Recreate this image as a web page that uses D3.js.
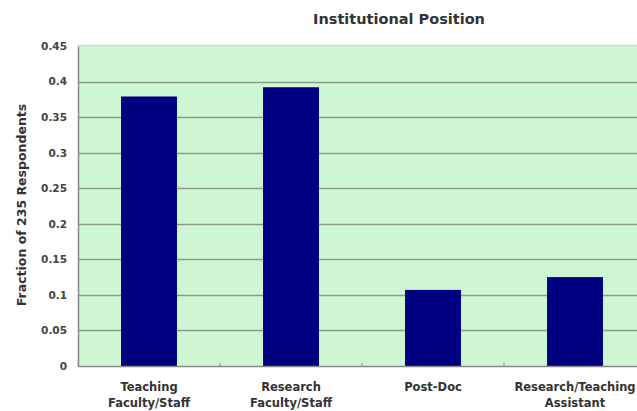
<!DOCTYPE html>
<html><head><meta charset="utf-8">
<script src="https://cdn.jsdelivr.net/npm/d3@7"></script>
<style>body{margin:0;background:#fff}svg{display:block}text{font-family:"DejaVu Sans",Verdana,sans-serif}</style>
</head><body>
<svg id="c" width="637" height="411"></svg>
<script>
const categories = [["Teaching","Faculty/Staff"],["Research","Faculty/Staff"],["Post-Doc"],["Research/Teaching","Assistant"]];
const values = [0.379, 0.392, 0.107, 0.125];
const yTicks = [0,0.05,0.1,0.15,0.2,0.25,0.3,0.35,0.4,0.45];
const title = "Institutional Position";
const yTitle = "Fraction of 235 Respondents";

(function(){
const svg = d3.select("#c");
const pL = 78, pT = 46, pB = 366, pR = 646;
const x = d3.scaleBand().domain(d3.range(values.length)).range([pL, pR]).paddingInner(0.606).paddingOuter(0.303);
const y = d3.scaleLinear().domain([0,0.45]).range([pB, pT]);

svg.append("rect").attr("x",pL).attr("y",pT).attr("width",pR-pL).attr("height",pB-pT)
  .attr("fill","#ccf7d2");
svg.append("line").attr("x1",pL).attr("x2",pR).attr("y1",pT-0.5).attr("y2",pT-0.5).attr("stroke","#d8d8d8").attr("stroke-width",1.5);

const g = svg.append("g");
g.selectAll("line.grid").data(yTicks.slice(1,-1)).join("line")
  .attr("x1",pL).attr("x2",pR).attr("y1",d=>Math.round(y(d))+0.5).attr("y2",d=>Math.round(y(d))+0.5)
  .attr("stroke","#8a9a8a").attr("stroke-width",1.5);

g.selectAll("rect.bar").data(values).join("rect")
  .attr("x",(d,i)=>x(i)).attr("width",x.bandwidth())
  .attr("y",d=>y(d)).attr("height",d=>pB-y(d))
  .attr("fill","#000080");

const yAxis = svg.append("g").attr("transform",`translate(${pL},0)`)
  .call(d3.axisLeft(y).tickValues(yTicks).tickSize(0).tickPadding(11).tickFormat(d=>String(+d.toFixed(2))));
yAxis.select(".domain").attr("stroke","#888").attr("stroke-width",1.5);
yAxis.selectAll("text").attr("font-size",10.5).attr("font-weight","bold").attr("fill","#444");

svg.append("line").attr("x1",pL).attr("x2",pR).attr("y1",pB+0.5).attr("y2",pB+0.5).attr("stroke","#888").attr("stroke-width",1.5);
const step = x.step();
svg.selectAll("line.tick").data(d3.range(values.length+1)).join("line")
  .attr("x1",i=>pL+i*step).attr("x2",i=>pL+i*step).attr("y1",pB-3).attr("y2",pB)
  .attr("stroke","#888");

const xl = svg.selectAll("text.xl").data(categories).join("text")
  .attr("x",(d,i)=>x(i)+x.bandwidth()/2).attr("y",391)
  .attr("text-anchor","middle").attr("font-size",11.5).attr("font-weight","bold").attr("fill","#333");
xl.selectAll("tspan").data(d=>d).join("tspan")
  .attr("x",function(){return this.parentNode.getAttribute("x");})
  .attr("dy",(d,i)=>i===0?0:16).text(d=>d);

svg.append("text").attr("x",399).attr("y",24).attr("text-anchor","middle")
  .attr("font-size",14.5).attr("font-weight","bold").attr("fill","#333").text(title);
svg.append("text").attr("transform","translate(26,205) rotate(-90)").attr("text-anchor","middle")
  .attr("font-size",12.5).attr("font-weight","bold").attr("fill","#333").text(yTitle);
})();
</script>
</body></html>
